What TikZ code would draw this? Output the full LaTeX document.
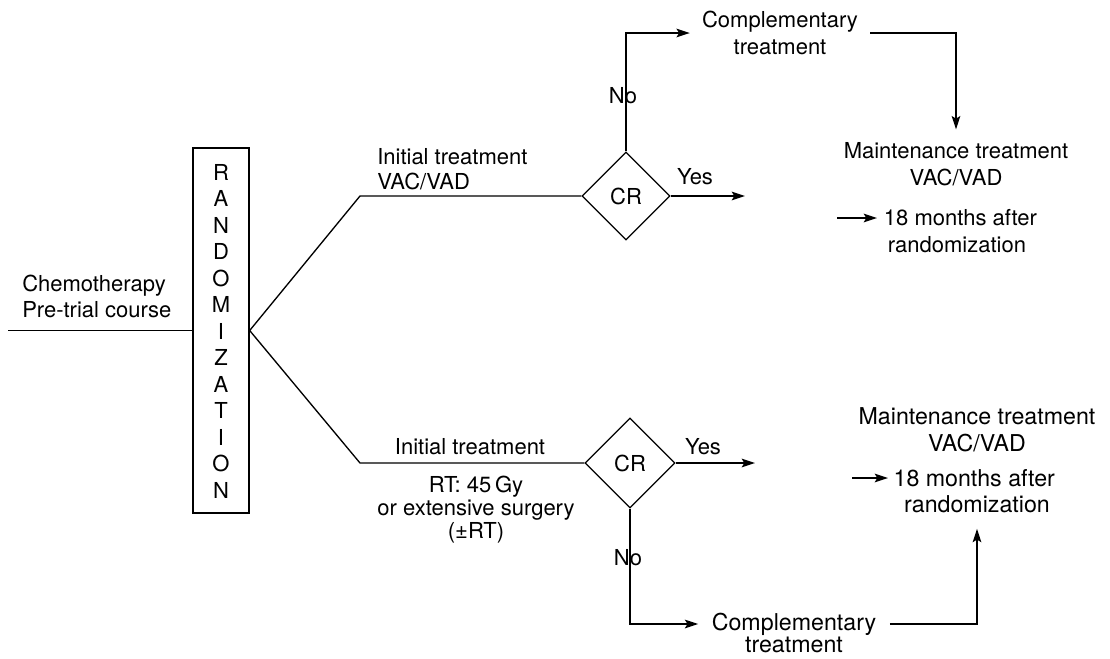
\documentclass[tikz,border=0pt]{standalone}
\usepackage{fontspec}
\setmainfont{TeX Gyre Heros}
\usetikzlibrary{shapes.geometric,arrows.meta}
\begin{document}
\begin{tikzpicture}[x=0.75pt,y=-0.75pt,
  every node/.style={font=\fontsize{16.5}{20}\selectfont, inner sep=0pt},
  big/.style={font=\fontsize{17.4}{20}\selectfont},
  txt/.style={align=center},
  ln/.style={line width=1pt},
  dia/.style={draw, ln, diamond, minimum width=66pt, minimum height=66pt},
  arr/.style={ln, -{Stealth[length=10pt,width=6.5pt,inset=2pt]}},
  ]
\useasboundingbox (0,0) rectangle (1110,658);

% left part
\node[anchor=west, align=left, font=\fontsize{16.5}{19.5}\selectfont] (chemo) at (22,296) {Chemotherapy\\Pre-trial course};
\node[draw, ln, minimum width=42pt, minimum height=273.75pt] (rand) at (221,330.5) {};
\foreach \l [count=\i from 0] in {R,A,N,D,O,M,I,Z,A,T,I,O,N}
  \node (L\i) at (221,172+26.5*\i) {\l};
\coordinate (start) at (8,330.5);
\draw[ln] (start) -- (rand.west);

% branches
\coordinate (c1) at (360,196);
\coordinate (c2) at (360,463);
\node[dia] (cr1) at (626,196) {CR};
\node[dia, minimum width=67.5pt, minimum height=67.5pt] (cr2) at (630,463) {CR};
\draw[ln] (rand.east) -- (c1) -- (cr1.west);
\draw[ln] (rand.east) -- (c2) -- (cr2.west);

\node[anchor=west, align=left, font=\fontsize{16.5}{19}\selectfont] (init1) at (377,169.5) {Initial treatment\\VAC/VAD};
\node (init2) at (470,447) {Initial treatment};
\node[txt, font=\fontsize{16.5}{17.2}\selectfont] (rt) at (476,509.5) {RT: 45\,Gy\\or extensive surgery\\(±RT)};

% upper decision
\coordinate (yes1) at (745,196);
\draw[arr] (cr1.east) -- (yes1);
\node (yes1l) at (695,177) {Yes};
\node[txt, inner xsep=9pt] (comp1) at (780,33) {Complementary\\treatment};
\draw[arr] (cr1.north) |- (comp1.west);
\node (no1) at (623,96) {No};
\node[txt, inner ysep=10pt] (maint1) at (956,164.5) {Maintenance treatment\\VAC/VAD};
\draw[arr] (comp1.east) -| (maint1.north);
\coordinate (a1) at (837,218);
\node[anchor=west, inner xsep=5pt] (m1a) at (877,218) {18 months after};
\node (m1b) at (957,245) {randomization};
\draw[arr] (a1) -- (m1a.west);

% lower decision
\coordinate (yes2) at (755,463);
\draw[arr] (cr2.east) -- (yes2);
\node (yes2l) at (703,447) {Yes};
\node (no2) at (628,558) {No};
\node[big, inner xsep=10pt] (comp2a) at (794,624) {Complementary};
\node[big] (comp2b) at (794,645) {treatment};
\draw[arr] (cr2.south) |- (comp2a.west);
\node[big, txt] (maint2) at (977,430) {Maintenance treatment\\VAC/VAD};
\coordinate (a2) at (852,478);
\node[big, anchor=west, inner xsep=4pt] (m2a) at (888,478) {18 months after};
\node[big, inner ysep=12pt] (m2b) at (977,504) {randomization};
\draw[arr] (a2) -- (m2a.west);
\draw[arr] (comp2a.east) -| (m2b.south);
\end{tikzpicture}
\end{document}
